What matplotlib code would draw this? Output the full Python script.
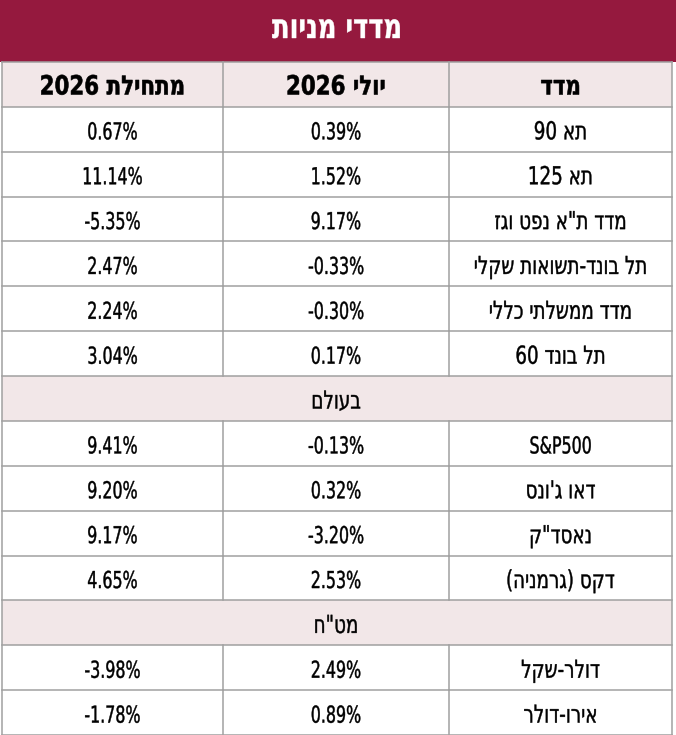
import re
import matplotlib
matplotlib.use("Agg")
import matplotlib.pyplot as plt
from matplotlib.patches import Rectangle
from matplotlib.patheffects import AbstractPathEffect
from matplotlib.transforms import Affine2D

# --- data ---
title = "מדדי מניות"
col_headers = ["מתחילת 2026", "יולי 2026", "מדד"]

names_il = ["תא 90", "תא 125", "מדד ת\"א נפט וגז", "תל בונד-תשואות שקלי",
            "מדד ממשלתי כללי", "תל בונד 60"]
july_il = ["0.39%", "1.52%", "9.17%", "-0.33%", "-0.30%", "0.17%"]
ytd_il = ["0.67%", "11.14%", "-5.35%", "2.47%", "2.24%", "3.04%"]

section_world = "בעולם"
names_world = ["S&P500", "דאו ג'ונס", "נאסד\"ק", "דקס (גרמניה)"]
july_world = ["-0.13%", "0.32%", "-3.20%", "2.53%"]
ytd_world = ["9.41%", "9.20%", "9.17%", "4.65%"]

section_fx = "מט\"ח"
names_fx = ["דולר-שקל", "אירו-דולר"]
july_fx = ["2.49%", "0.89%"]
ytd_fx = ["-3.98%", "-1.78%"]

# --- style ---
RED = "#95193e"
PINK = "#f2e7e8"
GRID = "#a0a0a0"
plt.rcParams["font.family"] = ["DejaVu Sans"]

W, H = 676, 735
TITLE_H = 62
ROW_H = (H - TITLE_H) / 15
LEFT, X1, X2, RIGHT = 2, 223, 449, 672
COL_CX = [(LEFT + X1) / 2, (X1 + X2) / 2, (X2 + RIGHT) / 2]

MIRROR = {"(": ")", ")": "("}
HEB = re.compile("[\u0590-\u05ff]")


def visual(s):
    # matplotlib has no bidi: reorder Hebrew for display
    if not HEB.search(s):
        return s
    parts = re.findall(r"[A-Za-z0-9&.%]+|[^A-Za-z0-9&.%]", s)
    return "".join(MIRROR.get(p, p) for p in reversed(parts))


class Tall(AbstractPathEffect):
    """stretch glyphs up from the baseline -> looks like a condensed font"""

    def __init__(self, sy=1.4, lw=0.0):
        super().__init__()
        self.sy = sy
        self.lw = lw

    def draw_path(self, renderer, gc, tpath, affine, rgbFace=None):
        t = Affine2D().scale(1, self.sy) + affine
        if self.lw > 0:
            gc0 = renderer.new_gc()
            gc0.copy_properties(gc)
            gc0.set_linewidth(self.lw)
            gc0.set_foreground(rgbFace)
            renderer.draw_path(gc0, tpath, t, rgbFace)
            gc0.restore()
        else:
            renderer.draw_path(gc, tpath, t, rgbFace)


def put(x, y, s, size=16.8, bold=False, color="black", sx=0.68, lw=0.3):
    if HEB.search(s):
        size, sx = size * 1.06, sx * 1.09
    ax.text(x, y, visual(s), ha="center", va="baseline", fontsize=size * sx,
            color=color, fontweight="bold" if bold else "normal",
            path_effects=[Tall(1 / sx, lw)])


fig = plt.figure(figsize=(W / 100, H / 100), dpi=100)
ax = fig.add_axes([0, 0, 1, 1])
ax.set_xlim(0, W)
ax.set_ylim(H, 0)
ax.axis("off")

# title bar
ax.add_patch(Rectangle((0, 0), W, TITLE_H, color=RED, lw=0))
put(337, 38, title, size=23, bold=True, color="white", sx=0.70, lw=0.3)

# rows
rows = [("header", col_headers)]
for n, j, y in zip(names_il, july_il, ytd_il):
    rows.append(("data", [y, j, n]))
rows.append(("section", section_world))
for n, j, y in zip(names_world, july_world, ytd_world):
    rows.append(("data", [y, j, n]))
rows.append(("section", section_fx))
for n, j, y in zip(names_fx, july_fx, ytd_fx):
    rows.append(("data", [y, j, n]))

for i, (kind, vals) in enumerate(rows):
    top = TITLE_H + i * ROW_H
    base = top + 32.5
    if kind in ("header", "section"):
        ax.add_patch(Rectangle((LEFT, top), RIGHT - LEFT, ROW_H, color=PINK, lw=0))
    if kind == "section":
        put(COL_CX[1], base, vals)
    elif kind == "header":
        for cx, v in zip(COL_CX, vals):
            put(cx, base, v, size=18, bold=True, sx=0.74, lw=0.4)
    else:
        for cx, v in zip(COL_CX, vals):
            put(cx, base, v)
    ax.plot([LEFT, RIGHT], [top + ROW_H, top + ROW_H], color=GRID, lw=1.1)
    if kind != "section":
        ax.plot([X1, X1], [top, top + ROW_H], color=GRID, lw=1.1)
        ax.plot([X2, X2], [top, top + ROW_H], color=GRID, lw=1.1)

ax.plot([LEFT, RIGHT], [TITLE_H, TITLE_H], color=GRID, lw=1.1)
ax.plot([LEFT, LEFT], [TITLE_H, H], color=GRID, lw=1.1)
ax.plot([RIGHT, RIGHT], [TITLE_H, H], color=GRID, lw=1.1)

fig.savefig("out.png", dpi=100)
